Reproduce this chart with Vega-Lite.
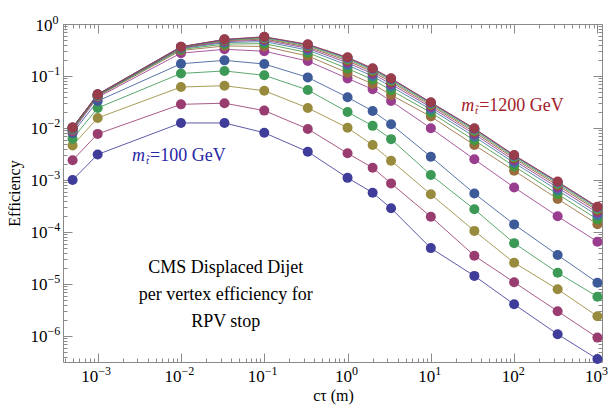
{
  "$schema": "https://vega.github.io/schema/vega-lite/v6.json",
  "width": 539,
  "height": 338,
  "autosize": {"type": "none"},
  "padding": {"left": 63, "top": 24, "right": 9, "bottom": 51},
  "background": "white",
  "config": {"view": {"stroke": "#8a8a8a", "strokeWidth": 1}},
  "datasets": {
    "eff": [
      {"s":1,"x":0.0005,"y":0.001},{"s":1,"x":0.001,"y":0.0031},{"s":1,"x":0.01,"y":0.0125},{"s":1,"x":0.0333,"y":0.0125},{"s":1,"x":0.1,"y":0.0081},{"s":1,"x":0.333,"y":0.0035},{"s":1,"x":1,"y":0.0011},{"s":1,"x":2,"y":0.00057},{"s":1,"x":3.33,"y":0.000285},{"s":1,"x":10,"y":0.000049},{"s":1,"x":33.3,"y":0.0000143},{"s":1,"x":100,"y":0.00000407},{"s":1,"x":333,"y":0.00000108},{"s":1,"x":1000,"y":0.00000036},
      {"s":2,"x":0.0005,"y":0.0024},{"s":2,"x":0.001,"y":0.0077},{"s":2,"x":0.01,"y":0.0285},{"s":2,"x":0.0333,"y":0.03},{"s":2,"x":0.1,"y":0.0216},{"s":2,"x":0.333,"y":0.0096},{"s":2,"x":1,"y":0.00326},{"s":2,"x":2,"y":0.00172},{"s":2,"x":3.33,"y":0.00086},{"s":2,"x":10,"y":0.000197},{"s":2,"x":33.3,"y":0.000035},{"s":2,"x":100,"y":0.0000108},{"s":2,"x":333,"y":0.000003},{"s":2,"x":1000,"y":0.00000093},
      {"s":3,"x":0.0005,"y":0.0046},{"s":3,"x":0.001,"y":0.0156},{"s":3,"x":0.01,"y":0.0614},{"s":3,"x":0.0333,"y":0.065},{"s":3,"x":0.1,"y":0.052},{"s":3,"x":0.333,"y":0.0243},{"s":3,"x":1,"y":0.0101},{"s":3,"x":2,"y":0.0047},{"s":3,"x":3.33,"y":0.00235},{"s":3,"x":10,"y":0.00053},{"s":3,"x":33.3,"y":0.000105},{"s":3,"x":100,"y":0.0000257},{"s":3,"x":333,"y":0.0000079},{"s":3,"x":1000,"y":0.0000024},
      {"s":4,"x":0.0005,"y":0.0062},{"s":4,"x":0.001,"y":0.0243},{"s":4,"x":0.01,"y":0.112},{"s":4,"x":0.0333,"y":0.125},{"s":4,"x":0.1,"y":0.103},{"s":4,"x":0.333,"y":0.0538},{"s":4,"x":1,"y":0.0203},{"s":4,"x":2,"y":0.011},{"s":4,"x":3.33,"y":0.0061},{"s":4,"x":10,"y":0.00125},{"s":4,"x":33.3,"y":0.000273},{"s":4,"x":100,"y":0.000061},{"s":4,"x":333,"y":0.0000165},{"s":4,"x":1000,"y":0.0000057},
      {"s":5,"x":0.0005,"y":0.008},{"s":5,"x":0.001,"y":0.033},{"s":5,"x":0.01,"y":0.172},{"s":5,"x":0.0333,"y":0.2},{"s":5,"x":0.1,"y":0.17},{"s":5,"x":0.333,"y":0.094},{"s":5,"x":1,"y":0.039},{"s":5,"x":2,"y":0.0212},{"s":5,"x":3.33,"y":0.0118},{"s":5,"x":10,"y":0.0028},{"s":5,"x":33.3,"y":0.00055},{"s":5,"x":100,"y":0.00014},{"s":5,"x":333,"y":0.000036},{"s":5,"x":1000,"y":0.0000106},
      {"s":6,"x":0.0005,"y":0.0087},{"s":6,"x":0.001,"y":0.0389},{"s":6,"x":0.01,"y":0.275},{"s":6,"x":0.0333,"y":0.326},{"s":6,"x":0.1,"y":0.3},{"s":6,"x":0.333,"y":0.194},{"s":6,"x":1,"y":0.09},{"s":6,"x":2,"y":0.0555},{"s":6,"x":3.33,"y":0.033},{"s":6,"x":10,"y":0.0099},{"s":6,"x":33.3,"y":0.0025},{"s":6,"x":100,"y":0.00072},{"s":6,"x":333,"y":0.0002},{"s":6,"x":1000,"y":0.000065},
      {"s":7,"x":0.0005,"y":0.00912},{"s":7,"x":0.001,"y":0.0407},{"s":7,"x":0.01,"y":0.309},{"s":7,"x":0.0333,"y":0.378},{"s":7,"x":0.1,"y":0.37},{"s":7,"x":0.333,"y":0.243},{"s":7,"x":1,"y":0.115},{"s":7,"x":2,"y":0.0702},{"s":7,"x":3.33,"y":0.0432},{"s":7,"x":10,"y":0.0166},{"s":7,"x":33.3,"y":0.00471},{"s":7,"x":100,"y":0.00151},{"s":7,"x":333,"y":0.000432},{"s":7,"x":1000,"y":0.000141},
      {"s":8,"x":0.0005,"y":0.00942},{"s":8,"x":0.001,"y":0.0418},{"s":8,"x":0.01,"y":0.324},{"s":8,"x":0.0333,"y":0.41},{"s":8,"x":0.1,"y":0.42},{"s":8,"x":0.333,"y":0.281},{"s":8,"x":1,"y":0.139},{"s":8,"x":2,"y":0.0853},{"s":8,"x":3.33,"y":0.0531},{"s":8,"x":10,"y":0.0198},{"s":8,"x":33.3,"y":0.00579},{"s":8,"x":100,"y":0.00184},{"s":8,"x":333,"y":0.000536},{"s":8,"x":1000,"y":0.000175},
      {"s":9,"x":0.0005,"y":0.00966},{"s":9,"x":0.001,"y":0.0426},{"s":9,"x":0.01,"y":0.337},{"s":9,"x":0.0333,"y":0.438},{"s":9,"x":0.1,"y":0.46},{"s":9,"x":0.333,"y":0.3145},{"s":9,"x":1,"y":0.162},{"s":9,"x":2,"y":0.0993},{"s":9,"x":3.33,"y":0.0624},{"s":9,"x":10,"y":0.0228},{"s":9,"x":33.3,"y":0.00682},{"s":9,"x":100,"y":0.00214},{"s":9,"x":333,"y":0.000635},{"s":9,"x":1000,"y":0.000208},
      {"s":10,"x":0.0005,"y":0.00983},{"s":10,"x":0.001,"y":0.0432},{"s":10,"x":0.01,"y":0.345},{"s":10,"x":0.0333,"y":0.457},{"s":10,"x":0.1,"y":0.49},{"s":10,"x":0.333,"y":0.34},{"s":10,"x":1,"y":0.18},{"s":10,"x":2,"y":0.11},{"s":10,"x":3.33,"y":0.0697},{"s":10,"x":10,"y":0.025},{"s":10,"x":33.3,"y":0.00762},{"s":10,"x":100,"y":0.00237},{"s":10,"x":333,"y":0.000713},{"s":10,"x":1000,"y":0.000234},
      {"s":11,"x":0.0005,"y":0.00997},{"s":11,"x":0.001,"y":0.0436},{"s":11,"x":0.01,"y":0.352},{"s":11,"x":0.0333,"y":0.474},{"s":11,"x":0.1,"y":0.515},{"s":11,"x":0.333,"y":0.361},{"s":11,"x":1,"y":0.195},{"s":11,"x":2,"y":0.12},{"s":11,"x":3.33,"y":0.076},{"s":11,"x":10,"y":0.027},{"s":11,"x":33.3,"y":0.00832},{"s":11,"x":100,"y":0.00258},{"s":11,"x":333,"y":0.000782},{"s":11,"x":1000,"y":0.000257},
      {"s":12,"x":0.0005,"y":0.01007},{"s":12,"x":0.001,"y":0.0439},{"s":12,"x":0.01,"y":0.358},{"s":12,"x":0.0333,"y":0.486},{"s":12,"x":0.1,"y":0.535},{"s":12,"x":0.333,"y":0.379},{"s":12,"x":1,"y":0.208},{"s":12,"x":2,"y":0.128},{"s":12,"x":3.33,"y":0.0813},{"s":12,"x":10,"y":0.0286},{"s":12,"x":33.3,"y":0.00889},{"s":12,"x":100,"y":0.00274},{"s":12,"x":333,"y":0.000838},{"s":12,"x":1000,"y":0.000275},
      {"s":13,"x":0.0005,"y":0.01015},{"s":13,"x":0.001,"y":0.0442},{"s":13,"x":0.01,"y":0.362},{"s":13,"x":0.0333,"y":0.497},{"s":13,"x":0.1,"y":0.552},{"s":13,"x":0.333,"y":0.393},{"s":13,"x":1,"y":0.218},{"s":13,"x":2,"y":0.134},{"s":13,"x":3.33,"y":0.0857},{"s":13,"x":10,"y":0.0299},{"s":13,"x":33.3,"y":0.00937},{"s":13,"x":100,"y":0.00288},{"s":13,"x":333,"y":0.000884},{"s":13,"x":1000,"y":0.000291},
      {"s":14,"x":0.0005,"y":0.0102},{"s":14,"x":0.001,"y":0.0443},{"s":14,"x":0.01,"y":0.365},{"s":14,"x":0.0333,"y":0.502},{"s":14,"x":0.1,"y":0.562},{"s":14,"x":0.333,"y":0.401},{"s":14,"x":1,"y":0.224},{"s":14,"x":2,"y":0.138},{"s":14,"x":3.33,"y":0.0881},{"s":14,"x":10,"y":0.0306},{"s":14,"x":33.3,"y":0.00965},{"s":14,"x":100,"y":0.00296},{"s":14,"x":333,"y":0.000912},{"s":14,"x":1000,"y":0.0003},
      {"s":15,"x":0.0005,"y":0.01023},{"s":15,"x":0.001,"y":0.0445},{"s":15,"x":0.01,"y":0.366},{"s":15,"x":0.0333,"y":0.507},{"s":15,"x":0.1,"y":0.569},{"s":15,"x":0.333,"y":0.407},{"s":15,"x":1,"y":0.229},{"s":15,"x":2,"y":0.141},{"s":15,"x":3.33,"y":0.0902},{"s":15,"x":10,"y":0.0312},{"s":15,"x":33.3,"y":0.00986},{"s":15,"x":100,"y":0.00302},{"s":15,"x":333,"y":0.000933},{"s":15,"x":1000,"y":0.000307}
    ],
    "notes": [
      {"x":0.0345,"y":0.0000203,"t":"CMS Displaced Dijet"},
      {"x":0.0345,"y":0.00000614,"t":"per vertex efficiency for"},
      {"x":0.0345,"y":0.00000186,"t":"RPV stop"}
    ],
    "masses": [
      {"x":0.00425,"y":0.0029,"lab":"100","t":"=100 GeV"},
      {"x":38,"y":0.0265,"lab":"1200","t":"=1200 GeV"}
    ]
  },
  "resolve": {"axis": {"x": "independent", "y": "independent"}},
  "layer": [
    {
      "data": {"name": "eff"},
      "mark": {"type": "line", "strokeWidth": 1, "opacity": 0.85},
      "encoding": {
        "x": {"field": "x", "type": "quantitative",
          "scale": {"type": "log", "domain": [0.0003834, 1135], "nice": false, "zero": false},
          "axis": {"orient": "bottom", "grid": false, "domain": false,
            "values": [0.0004,0.0005,0.0006,0.0007,0.0008,0.0009,0.001,0.002,0.003,0.004,0.005,0.006,0.007,0.008,0.009,0.01,0.02,0.03,0.04,0.05,0.06,0.07,0.08,0.09,0.1,0.2,0.3,0.4,0.5,0.6,0.7,0.8,0.9,1,2,3,4,5,6,7,8,9,10,20,30,40,50,60,70,80,90,100,200,300,400,500,600,700,800,900,1000],
            "labelExpr": "abs(log(datum.value)/LN10-round(log(datum.value)/LN10))<0.001 ? '10' : ''",
            "tickSize": {"condition": {"test": "abs(log(datum.value)/LN10-round(log(datum.value)/LN10))<0.001", "value": -9}, "value": -4},
            "tickColor": "#8a8a8a", "tickWidth": 1,
            "labelFont": "Liberation Serif", "labelFontSize": 17, "labelColor": "black",
            "labelAlign": "right", "labelBaseline": "top",
            "labelOffset": {"condition": {"test": "datum.value >= 0.999", "value": 4}, "value": 0},
            "labelPadding": 15, "labelOverlap": false, "labelFlush": false, "labelBound": false,
            "title": "cτ (m)", "titleFont": "Liberation Serif", "titleFontSize": 16, "titleFontWeight": "normal", "titleColor": "black",
            "titleX": 270, "titleY": 33, "titleBaseline": "middle", "titleAlign": "center"}},
        "y": {"field": "y", "type": "quantitative",
          "scale": {"type": "log", "domain": [3.16e-7, 1], "nice": false, "zero": false},
          "axis": {"orient": "left", "grid": false, "domain": false,
            "values": [4e-7,5e-7,6e-7,7e-7,8e-7,9e-7,1e-6,2e-6,3e-6,4e-6,5e-6,6e-6,7e-6,8e-6,9e-6,1e-5,2e-5,3e-5,4e-5,5e-5,6e-5,7e-5,8e-5,9e-5,1e-4,2e-4,3e-4,4e-4,5e-4,6e-4,7e-4,8e-4,9e-4,0.001,0.002,0.003,0.004,0.005,0.006,0.007,0.008,0.009,0.01,0.02,0.03,0.04,0.05,0.06,0.07,0.08,0.09,0.1,0.2,0.3,0.4,0.5,0.6,0.7,0.8,0.9,1],
            "labelExpr": "abs(log(datum.value)/LN10-round(log(datum.value)/LN10))<0.001 ? '10' : ''",
            "tickSize": {"condition": {"test": "abs(log(datum.value)/LN10-round(log(datum.value)/LN10))<0.001", "value": -9}, "value": -4},
            "tickColor": "#8a8a8a", "tickWidth": 1,
            "labelFont": "Liberation Serif", "labelFontSize": 17, "labelColor": "black",
            "labelAlign": "right", "labelBaseline": "middle", "labelOffset": 1,
            "labelPadding": {"condition": {"test": "datum.value >= 0.999", "value": 20}, "value": 25},
            "labelOverlap": false, "labelFlush": false, "labelBound": false,
            "title": "Efficiency", "titleFont": "Liberation Serif", "titleFontSize": 16, "titleFontWeight": "normal", "titleColor": "black",
            "titleX": -49, "titleY": 169, "titleBaseline": "middle", "titleAlign": "center", "titleAngle": -90}},
        "color": {"field": "s", "type": "nominal", "legend": null,
          "scale": {"domain": [1,2,3,4,5,6,7,8,9,10,11,12,13,14,15],
            "range": ["#3F3D99","#993D71","#998B3D","#3D9956","#3D5A99","#993D8F","#996D3D","#43993D","#3D7999","#843D99","#994E3D","#62993D","#3D9799","#653D99","#993D4B"]}},
        "detail": {"field": "s", "type": "nominal"}
      }
    },
    {
      "data": {"name": "eff"},
      "mark": {"type": "point", "filled": true, "size": 100, "opacity": 1},
      "encoding": {
        "x": {"field": "x", "type": "quantitative",
          "axis": {"orient": "top", "grid": false, "domain": false, "labels": false, "title": null,
            "values": [0.0004,0.0005,0.0006,0.0007,0.0008,0.0009,0.001,0.002,0.003,0.004,0.005,0.006,0.007,0.008,0.009,0.01,0.02,0.03,0.04,0.05,0.06,0.07,0.08,0.09,0.1,0.2,0.3,0.4,0.5,0.6,0.7,0.8,0.9,1,2,3,4,5,6,7,8,9,10,20,30,40,50,60,70,80,90,100,200,300,400,500,600,700,800,900,1000],
            "tickSize": {"condition": {"test": "abs(log(datum.value)/LN10-round(log(datum.value)/LN10))<0.001", "value": -9}, "value": -4},
            "tickColor": "#8a8a8a"}},
        "y": {"field": "y", "type": "quantitative",
          "axis": {"orient": "right", "grid": false, "domain": false, "labels": false, "title": null,
            "values": [4e-7,5e-7,6e-7,7e-7,8e-7,9e-7,1e-6,2e-6,3e-6,4e-6,5e-6,6e-6,7e-6,8e-6,9e-6,1e-5,2e-5,3e-5,4e-5,5e-5,6e-5,7e-5,8e-5,9e-5,1e-4,2e-4,3e-4,4e-4,5e-4,6e-4,7e-4,8e-4,9e-4,0.001,0.002,0.003,0.004,0.005,0.006,0.007,0.008,0.009,0.01,0.02,0.03,0.04,0.05,0.06,0.07,0.08,0.09,0.1,0.2,0.3,0.4,0.5,0.6,0.7,0.8,0.9,1],
            "tickSize": {"condition": {"test": "abs(log(datum.value)/LN10-round(log(datum.value)/LN10))<0.001", "value": -9}, "value": -4},
            "tickColor": "#8a8a8a"}},
        "color": {"field": "s", "type": "nominal", "legend": null}
      }
    },
    {
      "data": {"name": "notes"},
      "mark": {"type": "text", "font": "Liberation Serif", "fontSize": 18, "color": "black", "align": "center", "baseline": "middle"},
      "encoding": {
        "x": {"field": "x", "type": "quantitative",
          "axis": {"orient": "bottom", "grid": false, "domain": false, "ticks": false, "tickSize": 0, "title": null,
            "values": [0.001,0.01,0.1,1,10,100,1000],
            "labelExpr": "['−6','−5','−4','−3','−2','−1','0','1','2','3'][round(log(datum.value)/LN10)+6]",
            "labelFont": "Liberation Serif", "labelFontSize": 12, "labelColor": "black",
            "labelAlign": "left", "labelBaseline": "top",
            "labelOffset": {"condition": {"test": "datum.value >= 0.999", "value": 4}, "value": 0},
            "labelPadding": 3.5, "labelOverlap": false, "labelFlush": false, "labelBound": false}},
        "y": {"field": "y", "type": "quantitative",
          "axis": {"orient": "left", "grid": false, "domain": false, "ticks": false, "tickSize": 0, "title": null,
            "values": [1e-6,1e-5,1e-4,0.001,0.01,0.1,1],
            "labelExpr": "['−6','−5','−4','−3','−2','−1','0','1','2','3'][round(log(datum.value)/LN10)+6]",
            "labelFont": "Liberation Serif", "labelFontSize": 12, "labelColor": "black",
            "labelAlign": "left", "labelBaseline": "middle", "labelOffset": -5,
            "labelPadding": {"condition": {"test": "datum.value >= 0.999", "value": 11}, "value": 16},
            "labelOverlap": false, "labelFlush": false, "labelBound": false}},
        "text": {"field": "t"}
      }
    },
    {
      "data": {"name": "masses"},
      "mark": {"type": "text", "font": "Liberation Serif", "fontSize": 18, "align": "left", "baseline": "middle"},
      "encoding": {
        "x": {"field": "x", "type": "quantitative", "axis": null},
        "y": {"field": "y", "type": "quantitative", "axis": null},
        "text": {"field": "t"},
        "color": {"condition": {"test": "datum.lab=='100'", "value": "#2626a6"}, "value": "#a3202a"}
      }
    },
    {
      "data": {"name": "masses"},
      "mark": {"type": "text", "font": "Liberation Serif", "fontSize": 18, "fontStyle": "italic", "align": "right", "baseline": "middle", "dx": -5, "text": "m"},
      "encoding": {
        "x": {"field": "x", "type": "quantitative", "axis": null},
        "y": {"field": "y", "type": "quantitative", "axis": null},
        "color": {"condition": {"test": "datum.lab=='100'", "value": "#2626a6"}, "value": "#a3202a"}
      }
    },
    {
      "data": {"name": "masses"},
      "mark": {"type": "text", "font": "Liberation Serif", "fontSize": 11, "fontStyle": "italic", "align": "center", "baseline": "middle", "dx": -2.5, "dy": 5, "text": "t̃"},
      "encoding": {
        "x": {"field": "x", "type": "quantitative", "axis": null},
        "y": {"field": "y", "type": "quantitative", "axis": null},
        "color": {"condition": {"test": "datum.lab=='100'", "value": "#2626a6"}, "value": "#a3202a"}
      }
    }
  ]
}
